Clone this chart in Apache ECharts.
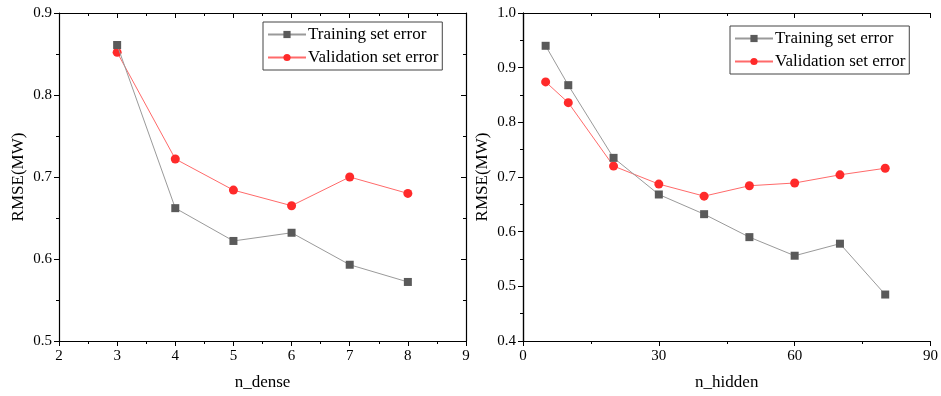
<!DOCTYPE html>
<html>
<head>
<meta charset="utf-8">
<script src="https://cdn.jsdelivr.net/npm/echarts@6/dist/echarts.min.js"></script>
<style>
  html, body { margin: 0; padding: 0; background: #fff; }
  #chart { width: 941px; height: 396px; }
</style>
</head>
<body>
<div id="chart"></div>
<script>
// left panel: n_dense
const denseX = [3, 4, 5, 6, 7, 8];
const denseTrain = [0.861, 0.662, 0.622, 0.632, 0.593, 0.572];
const denseValid = [0.852, 0.722, 0.684, 0.665, 0.700, 0.680];

// right panel: n_hidden
const hiddenX = [5, 10, 20, 30, 40, 50, 60, 70, 80];
const hiddenTrain = [0.940, 0.868, 0.735, 0.668, 0.632, 0.590, 0.556, 0.578, 0.485];
const hiddenValid = [0.874, 0.836, 0.720, 0.687, 0.665, 0.684, 0.689, 0.704, 0.716];

const FONT = "'Liberation Serif', 'Times New Roman', serif";
const trainName = 'Training set error';
const validName = 'Validation set error';

const zip = (xs, ys) => xs.map((x, i) => [x, ys[i]]);

function mainX(idx, min, max, interval, name) {
  return {
    type: 'value', gridIndex: idx, min: min, max: max, interval: interval,
    name: name, nameLocation: 'middle', nameGap: 33,
    nameTextStyle: { fontFamily: FONT, fontSize: 17, color: '#000' },
    axisLine: { lineStyle: { color: '#000', width: 1.2 } },
    axisTick: { inside: false, length: 5, lineStyle: { color: '#000' } },
    minorTick: { show: true, splitNumber: 2, length: 3, lineStyle: { color: '#000' } },
    axisLabel: { fontFamily: FONT, fontSize: 15, color: '#000', margin: 8 },
    splitLine: { show: false }
  };
}
function mirrorX(idx, min, max, interval) {
  return {
    type: 'value', gridIndex: idx, position: 'top', min: min, max: max, interval: interval,
    axisLine: { lineStyle: { color: '#000', width: 1.2 } },
    axisTick: { inside: true, length: 5, lineStyle: { color: '#000' } },
    minorTick: { show: true, splitNumber: 2, length: 3, lineStyle: { color: '#000' } },
    axisLabel: { show: false },
    splitLine: { show: false }
  };
}
function mainY(idx, min, max) {
  return {
    type: 'value', gridIndex: idx, min: min, max: max, interval: 0.1,
    name: 'RMSE(MW)', nameLocation: 'middle', nameGap: 32, nameRotate: 90,
    nameTextStyle: { fontFamily: FONT, fontSize: 17, color: '#000' },
    axisLine: { show: true, lineStyle: { color: '#000', width: 1.2 } },
    axisTick: { show: true, inside: false, length: 5, lineStyle: { color: '#000' } },
    minorTick: { show: true, splitNumber: 2, length: 3, lineStyle: { color: '#000' } },
    axisLabel: { fontFamily: FONT, fontSize: 15, color: '#000', margin: 7, formatter: v => v.toFixed(1) },
    splitLine: { show: false }
  };
}
function mirrorY(idx, min, max) {
  return {
    type: 'value', gridIndex: idx, position: 'right', min: min, max: max, interval: 0.1,
    axisLine: { show: true, lineStyle: { color: '#000', width: 1.2 } },
    axisTick: { show: true, inside: true, length: 5, lineStyle: { color: '#000' } },
    minorTick: { show: true, splitNumber: 2, length: 3, lineStyle: { color: '#000' } },
    axisLabel: { show: false },
    splitLine: { show: false }
  };
}
function legendAt(left, top) {
  return {
    orient: 'vertical', left: left, top: top,
    data: [trainName, validName],
    itemWidth: 38, itemHeight: 9, itemGap: 6,
    padding: [4, 4, 4, 4],
    borderColor: '#444', borderWidth: 1,
    textStyle: { fontFamily: FONT, fontSize: 17, color: '#000', padding: [0, 0, 0, -3] }
  };
}
function trainSeries(xi, yi, data) {
  return {
    name: trainName, type: 'line', xAxisIndex: xi, yAxisIndex: yi, data: data,
    symbol: 'rect', symbolSize: 8,
    itemStyle: { color: '#5a5a5a' },
    lineStyle: { color: '#9a9a9a', width: 1 },
    z: 3
  };
}
function validSeries(xi, yi, data) {
  return {
    name: validName, type: 'line', xAxisIndex: xi, yAxisIndex: yi, data: data,
    symbol: 'circle', symbolSize: 9,
    itemStyle: { color: '#ff2a2a' },
    lineStyle: { color: '#ff6a6a', width: 1 },
    z: 2
  };
}

const chart = echarts.init(document.getElementById('chart'));
chart.setOption({
  animation: false,
  backgroundColor: '#fff',
  grid: [
    { left: 59, right: 475, top: 13, bottom: 55 },
    { left: 523, right: 7, top: 13, bottom: 55 }
  ],
  legend: [legendAt(263, 22), legendAt(730, 26)],
  xAxis: [
    mainX(0, 2, 9, 1, 'n_dense'),
    mirrorX(0, 2, 9, 1),
    mainX(1, 0, 90, 30, 'n_hidden'),
    mirrorX(1, 0, 90, 30)
  ],
  yAxis: [
    mainY(0, 0.5, 0.9),
    mirrorY(0, 0.5, 0.9),
    mainY(1, 0.4, 1.0),
    mirrorY(1, 0.4, 1.0)
  ],
  series: [
    trainSeries(0, 0, zip(denseX, denseTrain)),
    validSeries(0, 0, zip(denseX, denseValid)),
    trainSeries(2, 2, zip(hiddenX, hiddenTrain)),
    validSeries(2, 2, zip(hiddenX, hiddenValid))
  ]
});
</script>
</body>
</html>
